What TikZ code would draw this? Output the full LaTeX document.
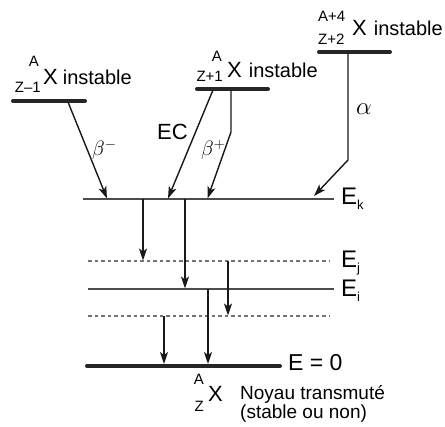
\documentclass[tikz,border=0pt]{standalone}
\usepackage{fontspec}
\setmainfont{Liberation Sans}
\usetikzlibrary{arrows.meta}
\newcommand\setfs[1]{\fontsize{#1}{#1}\selectfont}
\begin{document}
\begin{tikzpicture}[x=1pt,y=-1pt,
  lvl/.style={line width=4pt, black!85, line cap=round},
  thinlvl/.style={line width=1.2pt, black!70},
  dashlvl/.style={line width=1.2pt, black!55, dash pattern=on 3.5pt off 3pt},
  arr/.style={line width=1.4pt, black!90, -{Stealth[length=12pt,width=8pt,inset=3pt]}},
  txt/.style={inner sep=0pt, font=\setfs{20}},
  xs/.style={inner sep=0pt, font=\setfs{15}},
  el/.style={inner sep=0pt, font=\setfs{24}, anchor=base west},
  gr/.style={inner sep=0pt, font=\setfs{22}, anchor=base west}]
\useasboundingbox (0,0) rectangle (445,427);
% levels
\coordinate (L1) at (13,101); \coordinate (L2) at (85,101);
\coordinate (M1) at (197,89); \coordinate (M2) at (268,89);
\coordinate (R1) at (319,52); \coordinate (R2) at (390,52);
\coordinate (K1) at (83,199); \coordinate (K2) at (334,199);
\coordinate (J1) at (88,261); \coordinate (J2) at (330,261);
\coordinate (I1) at (88,289); \coordinate (I2) at (334,289);
\coordinate (D1) at (88,316); \coordinate (D2) at (330,316);
\coordinate (G1) at (87,366); \coordinate (G2) at (280,366);
\draw[lvl] (L1) -- (L2);
\draw[lvl] (M1) -- (M2);
\draw[lvl] (R1) -- (R2);
\draw[lvl] (G1) -- (G2);
\draw[thinlvl] (K1) -- (K2);
\draw[thinlvl] (I1) -- (I2);
\draw[dashlvl] (J1) -- (J2);
\draw[dashlvl] (D1) -- (D2);
% decay arrows
\coordinate (bmS) at (68,102); \coordinate (bmE) at (107,198.5);
\coordinate (ecS) at (213,90); \coordinate (ecE) at (168,198.5);
\coordinate (bpS) at (231,90); \coordinate (bpB) at (231,132); \coordinate (bpE) at (207.5,198.5);
\coordinate (alS) at (348,53); \coordinate (alB) at (348,160); \coordinate (alE) at (314,196);
\draw[arr] (bmS) -- (bmE);
\draw[arr] (ecS) -- (ecE);
\draw[arr] (bpS) -- (bpB) -- (bpE);
\draw[arr] (alS) -- (alB) -- (alE);
% gamma transitions
\coordinate (t1S) at (143,199); \coordinate (t1E) at (143,260.5);
\coordinate (t2S) at (185,199); \coordinate (t2E) at (185,288.5);
\coordinate (t3S) at (228,261); \coordinate (t3E) at (228,315.5);
\coordinate (t4S) at (164,316); \coordinate (t4E) at (164,364);
\coordinate (t5S) at (208,289); \coordinate (t5E) at (208,364);
\draw[arr] (t1S) -- (t1E);
\draw[arr] (t2S) -- (t2E);
\draw[arr] (t3S) -- (t3E);
\draw[arr] (t4S) -- (t4E);
\draw[arr] (t5S) -- (t5E);
% nucleus labels
\node[txt, anchor=base west] (lX) at (43,85) {{\setfs{22}X}\hspace{5pt}instable};
\node[xs, anchor=base east] (lA) at (39,67) {A};
\node[xs, anchor=base east] (lZ) at (41,93) {Z\textendash1};
\node[txt, anchor=base west] (mX) at (227,78) {{\setfs{22}X}\hspace{7pt}instable};
\node[xs, anchor=base east] (mA) at (222,62) {A};
\node[xs, anchor=base east] (mZ) at (223,82) {Z+1};
\node[txt, anchor=base west] (rX) at (352,36) {{\setfs{22}X}\hspace{7pt}instable};
\node[xs, anchor=base west] (rA) at (318,22) {A+4};
\node[xs, anchor=base west] (rZ) at (318,45) {Z+2};
% greek labels
\node[gr] (lbm) at (92,156) {$\beta^{-}$};
\node[gr] (lbp) at (201,156) {$\beta^{+}$};
\node[gr, font=\setfs{24}] (lal) at (356,115) {$\alpha$};
\node[inner sep=0pt, font=\setfs{22}, anchor=base west] (lec) at (157,140) {EC};
% energy labels
\node[el] (ek) at (341,205) {E\raisebox{-5pt}{\setfs{13}k}};
\node[el] (ej) at (341,268) {E\raisebox{-5pt}{\setfs{13}j}};
\node[el] (ei) at (341,297) {E\raisebox{-5pt}{\setfs{13}i}};
\node[inner sep=0pt, font=\setfs{23}, anchor=base west] (e0) at (288,371) {E = 0};
% transmuted nucleus
\node[inner sep=0pt, font=\setfs{22}, anchor=base west] (bX) at (208,402) {X};
\node[xs, anchor=base east] (bA) at (204,385) {A};
\node[xs, anchor=base east] (bZ) at (204,412) {Z};
\node[inner sep=0pt, font=\setfs{19}, anchor=base west] (n1) at (240,399.5) {Noyau transmuté};
\node[inner sep=0pt, font=\setfs{19}, anchor=base west] (n2) at (240,418.5) {(stable ou non)};
\end{tikzpicture}
\end{document}
